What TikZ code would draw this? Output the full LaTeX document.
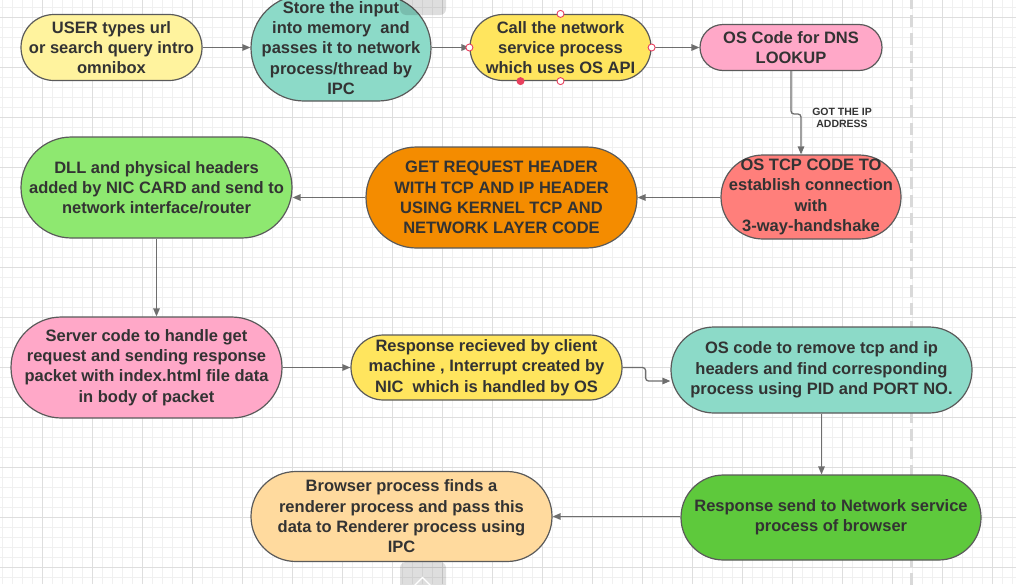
\documentclass[tikz,border=0pt]{standalone}
\usepackage{fontspec}
\setmainfont{Liberation Sans}
\usetikzlibrary{arrows.meta}
\definecolor{amarilloclaro}{HTML}{FFF39E}
\definecolor{amarillo}{HTML}{FFE55E}
\definecolor{turquesa}{HTML}{8CDAC8}
\definecolor{rosa}{HTML}{FFA8C8}
\definecolor{salmon}{HTML}{FF7F7B}
\definecolor{naranja}{HTML}{F48C00}
\definecolor{verdeclaro}{HTML}{8EE870}
\definecolor{verde}{HTML}{5EC93C}
\definecolor{melocoton}{HTML}{FFDA9E}
\definecolor{borde}{HTML}{5A5A5A}
\definecolor{flechagris}{HTML}{6E6E6E}
\definecolor{textogris}{HTML}{333333}
\definecolor{rojoasa}{HTML}{E9405E}
\begin{document}
\begin{tikzpicture}[x=1pt,y=-1pt,
    caja/.style={draw=borde, line width=1.2pt, text=textogris, align=center, inner sep=0pt,
                 font=\fontsize{16.5}{20.3}\selectfont\bfseries},
    flecha/.style={draw=flechagris, line width=1.3pt, -{Triangle[length=8pt,width=6.5pt]}},
    rejilla/.style={draw=black!6, line width=0.8pt},
    rejillamayor/.style={draw=black!13, line width=1pt},
    asa/.style={circle, draw=rojoasa, fill=white, line width=0.9pt, minimum size=7pt, inner sep=0pt},
    pestana/.style={fill=black, opacity=0.13, rounded corners=6pt}]
    \useasboundingbox (0,0) rectangle (1016,584);
    % Cuadricula
    \fill[white] (0,0) rectangle (1016,584);
    \foreach \gx in {2,12,...,1012} \draw[rejilla] (\gx,0) -- (\gx,584);
    \foreach \gy in {7,17,...,577} \draw[rejilla] (0,\gy) -- (1016,\gy);
    \foreach \gx in {42,92,...,992} \draw[rejillamayor] (\gx,0) -- (\gx,584);
    \foreach \gy in {17,67,...,567} \draw[rejillamayor] (0,\gy) -- (1016,\gy);
    \draw[draw=black!15, line width=3pt, dash pattern=on 12pt off 6pt] (911,-3) -- (911,590);
    % Fila 1
    \node[caja, fill=amarilloclaro, minimum width=181pt, minimum height=66pt, rounded corners=33pt]
        (usuario) at (111.5,47.5) {USER types url\\or search query intro\\omnibox};
    \node[caja, fill=turquesa, minimum width=180pt, minimum height=106pt, rounded corners=53pt]
        (memoria) at (341,48) {Store the input\\into memory\ \ and\\passes it to network\\process/thread by\\IPC};
    \node[caja, fill=amarillo, minimum width=181pt, minimum height=66pt, rounded corners=33pt]
        (llamada) at (560.5,47.5) {Call the network\\service process\\which uses OS API};
    \node[caja, fill=rosa, minimum width=182pt, minimum height=46pt, rounded corners=23pt]
        (dns) at (791,47.5) {OS Code for DNS\\LOOKUP};
    % Fila 2
    \node[caja, fill=salmon, minimum width=180pt, minimum height=84pt, rounded corners=42pt]
        (tcp) at (811,197) {OS TCP CODE TO\\establish connection\\with\\3-way-handshake};
    \node[caja, fill=naranja, minimum width=271pt, minimum height=101pt, rounded corners=50.5pt]
        (cabecera) at (501.5,197.5) {GET REQUEST HEADER\\WITH TCP AND IP HEADER\\USING KERNEL TCP AND\\NETWORK LAYER CODE};
    \node[caja, fill=verdeclaro, minimum width=271pt, minimum height=101pt, rounded corners=50.5pt]
        (enlace) at (156.5,187.5) {DLL and physical headers\\added by NIC CARD and send to\\network interface/router};
    % Fila 3
    \node[caja, fill=rosa, minimum width=271pt, minimum height=101pt, rounded corners=50.5pt]
        (servidor) at (146.5,367.5) {Server code to handle get\\request and sending response\\packet with index.html file data\\in body of packet};
    \node[caja, fill=amarillo, minimum width=271pt, minimum height=65pt, rounded corners=32.5pt]
        (cliente) at (486.5,367.5) {Response recieved by client\\machine , Interrupt created by\\NIC\ \ which is handled by OS};
    \node[caja, fill=turquesa, minimum width=301pt, minimum height=86pt, rounded corners=43pt]
        (quitar) at (821.5,370) {OS code to remove tcp and ip\\headers and find corresponding\\process using PID and PORT NO.};
    % Fila 4
    \node[caja, fill=verde, minimum width=300pt, minimum height=85pt, rounded corners=42.5pt]
        (envio) at (831,517.5) {Response send to Network service\\process of browser};
    \node[caja, fill=melocoton, minimum width=301pt, minimum height=90pt, rounded corners=45pt]
        (navegador) at (401.5,516.5) {Browser process finds a\\renderer process and pass this\\data to Renderer process using\\IPC};
    % Conectores
    \draw[flecha] (usuario.east) -- (usuario.east -| memoria.west);
    \draw[flecha] (memoria.east |- llamada.west) -- (llamada.west);
    \draw[flecha] (llamada.east) -- (llamada.east -| dns.west);
    \coordinate (salto) at (801,114);
    \draw[flecha, rounded corners=3pt] (dns.south) |- (salto) -- (salto |- tcp.north);
    \node[text=textogris, align=center, font=\fontsize{10.5}{12}\selectfont\bfseries] (ip) at (842,117.5) {GOT THE IP\\ADDRESS};
    \draw[flecha] (tcp.west |- cabecera.east) -- (cabecera.east);
    \draw[flecha] (cabecera.west) -- (cabecera.west -| enlace.east);
    \draw[flecha] (enlace.south) -- (enlace.south |- servidor.north);
    \draw[flecha] (servidor.east) -- (servidor.east -| cliente.west);
    \draw[flecha, rounded corners=3pt] (cliente.east) -- ++(23,0) |- ([yshift=-11pt]quitar.west);
    \draw[flecha] (quitar.south) -- (quitar.south |- envio.north);
    \draw[flecha] (envio.west |- navegador.east) -- (navegador.east);
    % Asas de seleccion
    \node[asa] (asaoeste) at (llamada.west) {};
    \node[asa] (asaeste) at (llamada.east) {};
    \node[asa] (asanorte) at (llamada.north) {};
    \node[asa] (asasur) at (llamada.south) {};
    \fill[rojoasa] ([xshift=-40pt]llamada.south) circle (4pt);
    % Pestanas
    \fill[pestana] (400,-10) rectangle (446,15);
    \fill[pestana] (400,562) rectangle (446,600);
    \draw[white, line width=1.2pt] (413,587) -- (422.5,577.5) -- (432,587);
\end{tikzpicture}
\end{document}
